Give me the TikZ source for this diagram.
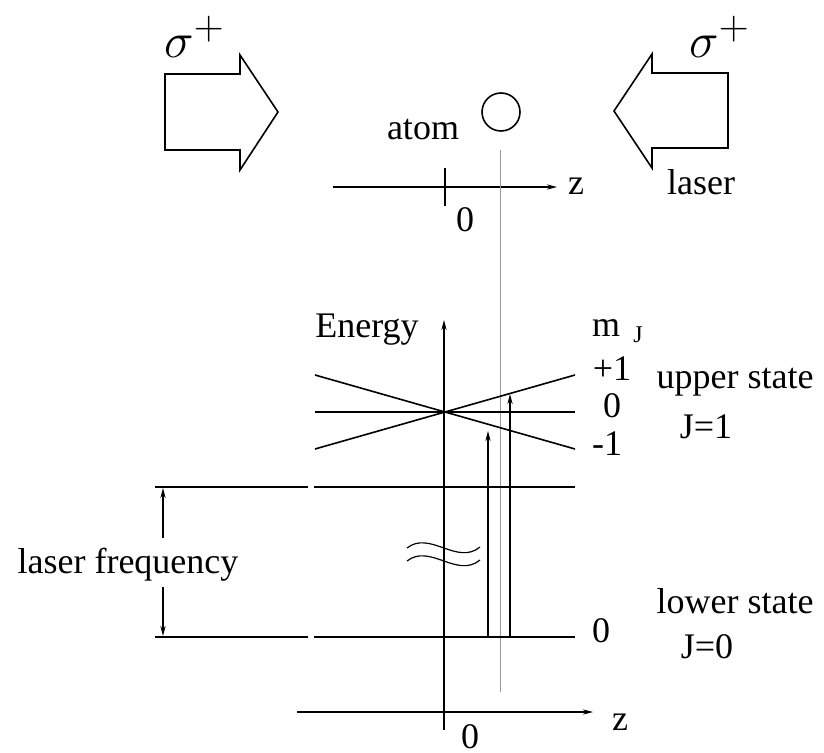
\documentclass[tikz,border=0pt]{standalone}
\usepackage{fontspec}
\setmainfont{Liberation Serif}
\usetikzlibrary{arrows.meta}
\begin{document}
\begin{tikzpicture}[x=0.5pt,y=-0.5pt, line join=miter,
  ln/.style={line width=0.8pt},
  thinln/.style={gray!80, line width=0.4pt},
  lbl/.style={font=\fontsize{18}{21}\selectfont, inner sep=0pt, anchor=base},
  sig/.style={font=\fontsize{30}{36}\selectfont, inner sep=0pt, anchor=base west},
  tip/.style={-{Stealth[length=5pt,width=2.6pt]}}
  ]
\useasboundingbox (0,0) rectangle (824,753);
% laser arrows
\draw[ln] (165,74) -- (240,74) -- (240,55) -- (278,112) -- (240,170) -- (240,150) -- (165,150) -- cycle;
\draw[ln] (728,73) -- (652,73) -- (652,54) -- (614,111) -- (652,168) -- (652,148) -- (728,148) -- cycle;
\node[sig] (sigL) at (164,58) {$\sigma^{+}$};
\node[sig] (sigR) at (689,58) {$\sigma^{+}$};
% atom
\node[circle, draw, ln, minimum size=19pt, inner sep=0pt] (atom) at (501,112) {};
\node[lbl] (atomlbl) at (423,140) {atom};
% upper z axis
\coordinate (zuL) at (333,187);
\coordinate (zuR) at (557,187);
\draw[ln,tip] (zuL) -- (zuR);
\coordinate (tkT) at (445,168);
\coordinate (tkB) at (445,206);
\draw[ln] (tkT) -- (tkB);
\node[lbl] (zu) at (576,195) {z};
\node[lbl] (zu0) at (465,232) {0};
\node[lbl] (laser) at (701,195) {laser};
% dotted atom position line
\coordinate (dT) at (500,150);
\coordinate (dB) at (500,692);
\draw[thinln] (dT) -- (dB);
% energy axis
\coordinate (eB) at (444,730);
\coordinate (eT) at (444,320);
\draw[ln,tip] (eB) -- (eT);
\node[lbl] (energy) at (367,338) {Energy};
% Zeeman levels
\coordinate (m0L) at (315,412); \coordinate (m0R) at (575,412);
\coordinate (mpL) at (315,449); \coordinate (mpR) at (575,375);
\coordinate (mmL) at (315,375); \coordinate (mmR) at (575,449);
\draw[ln] (m0L) -- (m0R);
\draw[ln] (mpL) -- (mpR);
\draw[ln] (mmL) -- (mmR);
\node[lbl] (mJ) at (606,337) {m};
\node[font=\fontsize{12}{14}\selectfont, inner sep=0pt, anchor=base] (mJsub) at (638,343) {J};
\node[lbl] (lp1) at (612,380) {+1};
\node[lbl] (l0) at (612,417) {0};
\node[lbl] (lm1) at (607,455) {-1};
\node[lbl] (upper) at (735,388) {upper state};
\node[lbl] (J1) at (706,438) {J=1};
% reference levels
\draw[ln] (155,487) -- (308,487);
\draw[ln] (314,487) -- (575,487);
\draw[ln] (155,637) -- (308,637);
\draw[ln] (314,637) -- (575,637);
\node[lbl] (lfreq) at (128,573) {laser frequency};
\coordinate (lfA) at (163,538); \coordinate (lfAt) at (163,488);
\coordinate (lfB) at (163,587); \coordinate (lfBt) at (163,636);
\draw[ln,tip] (lfA) -- (lfAt);
\draw[ln,tip] (lfB) -- (lfBt);
\node[lbl] (low0) at (601,642) {0};
\node[lbl] (lower) at (735,613) {lower state};
\node[lbl] (J0) at (707,658) {J=0};
% transitions
\draw[ln,tip] (488,637) -- (488,431);
\draw[ln,tip] (510,637) -- (510,394);
% break marks
\draw[line width=0.6pt] (407,548) .. controls (430,530) and (457,566) .. (480,547);
\draw[line width=0.6pt] (407,561) .. controls (430,543) and (457,579) .. (480,560);
% lower z axis
\coordinate (zlL) at (297,712);
\coordinate (zlR) at (593,712);
\draw[ln,tip] (zlL) -- (zlR);
\node[lbl] (zl) at (620,730) {z};
\node[lbl] (zl0) at (470,748) {0};
\end{tikzpicture}
\end{document}
